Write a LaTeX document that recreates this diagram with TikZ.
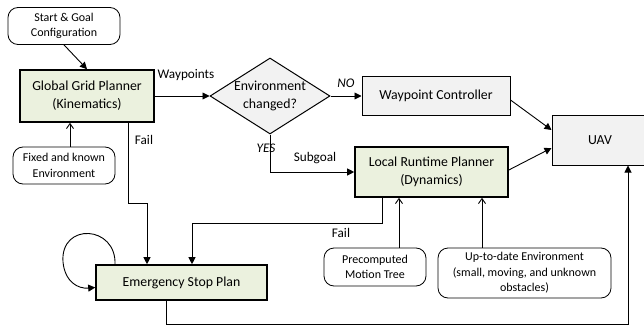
\documentclass[tikz,border=0pt]{standalone}
\usepackage{fontspec}
\setmainfont{Carlito}
\usetikzlibrary{arrows.meta,shapes.geometric,calc}
\definecolor{boxgreen}{HTML}{EBF1DE}
\definecolor{boxgray}{HTML}{F2F2F2}
\begin{document}
\begin{tikzpicture}[x=1pt,y=-1pt,
  bigfont/.style={font=\fontsize{13.8}{18}\selectfont},
  smallfont/.style={font=\fontsize{12}{15.5}\selectfont},
  lblfont/.style={font=\fontsize{13.2}{16}\selectfont},
  mainbox/.style={draw,line width=1.6pt,fill=boxgreen,bigfont,align=center,inner sep=0pt},
  graybox/.style={draw,line width=1pt,fill=boxgray,bigfont,align=center,inner sep=0pt},
  roundbox/.style={draw,line width=0.8pt,rounded corners=10pt,smallfont,align=center,inner sep=0pt},
  arr/.style={line width=0.9pt,-{Triangle[length=7pt,width=7pt]}},
  openarr/.style={line width=0.9pt,-{Straight Barb[length=5pt,width=7pt]}},
  ]
\useasboundingbox (0,0) rectangle (644,326);
\node[roundbox,minimum width=112pt,minimum height=37pt] (start) at (64,26) {Start \& Goal\\Configuration};
\node[mainbox,minimum width=134pt,minimum height=52pt] (global) at (87,96) {Global Grid Planner\\(Kinematics)};
\node[draw,line width=1pt,fill=boxgray,diamond,aspect=1.58,minimum width=120pt,minimum height=76pt,inner sep=0pt,bigfont,align=center] (env) at (270,96) {Environment\\changed?};
\node[graybox,minimum width=148pt,minimum height=38pt] (wpc) at (436,96) {Waypoint Controller};
\node[mainbox,minimum width=153pt,minimum height=50pt] (local) at (431.5,172) {Local Runtime Planner\\(Dynamics)};
\node[graybox,minimum width=96pt,minimum height=50pt] (uav) at (600,140) {UAV};
\node[mainbox,minimum width=171pt,minimum height=35pt] (emerg) at (181.5,282.5) {Emergency Stop Plan};
\node[roundbox,minimum width=102pt,minimum height=37pt] (fixed) at (64,165.5) {Fixed and known\\Environment};
\node[roundbox,minimum width=102pt,minimum height=38pt] (precomp) at (375,267) {Precomputed\\Motion Tree};
\node[roundbox,minimum width=173pt,minimum height=50pt] (uptodate) at (524.5,273) {Up-to-date Environment\\(small, moving, and unknown\\obstacles)};

\draw[arr] (start.south) -- (global.north);
\draw[arr] (global.east) -- (env.west);
\node[lblfont] (lwp) at (186,75) {Waypoints};
\draw[arr] (env.east) -- (wpc.west);
\node[lblfont,font=\fontsize{13.2}{16}\selectfont\itshape] (lno) at (346,83) {NO};
\draw[arr] (env.south) |- (local.west);
\node[lblfont,font=\fontsize{13.2}{16}\selectfont\itshape] (lyes) at (266,148) {YES};
\node[lblfont] (lsub) at (315,158) {Subgoal};
\draw[arr] ([yshift=-4pt]wpc.east) -- ([yshift=10pt]uav.west);
\draw[arr] ([yshift=2pt]local.east) -- ([yshift=-8pt]uav.west);

\coordinate (g1) at (128,203);
\coordinate (g2) at (147,203);
\draw[arr] (global.south -| g1) -- (g1) -- (g2) -- (emerg.north -| g2);
\node[lblfont] (lfail1) at (144,140) {Fail};
\coordinate (l1) at (382,223);
\coordinate (l2) at (192,223);
\draw[arr] (local.south -| l1) -- (l1) -- (l2) -- (emerg.north -| l2);
\node[lblfont] (lfail2) at (341,233) {Fail};

\coordinate (e1) at (166,324);
\coordinate (e2) at (628,324);
\draw[arr] (emerg.south -| e1) -- (e1) -- (e2) -- (uav.south -| e2);

\draw[openarr] (fixed.north -| 70,0) -- (global.south -| 70,0);
\draw[openarr] (precomp.north -| 399,0) -- (local.south -| 399,0);
\draw[openarr] (uptodate.north -| 482,0) -- (local.south -| 482,0);

\coordinate (s1) at (115,265);
\draw[arr] (s1) .. controls (117,225) and (60,222) .. (63,262) .. controls (65,282) and (78,289) .. ([yshift=-5pt]emerg.west);
\end{tikzpicture}
\end{document}
